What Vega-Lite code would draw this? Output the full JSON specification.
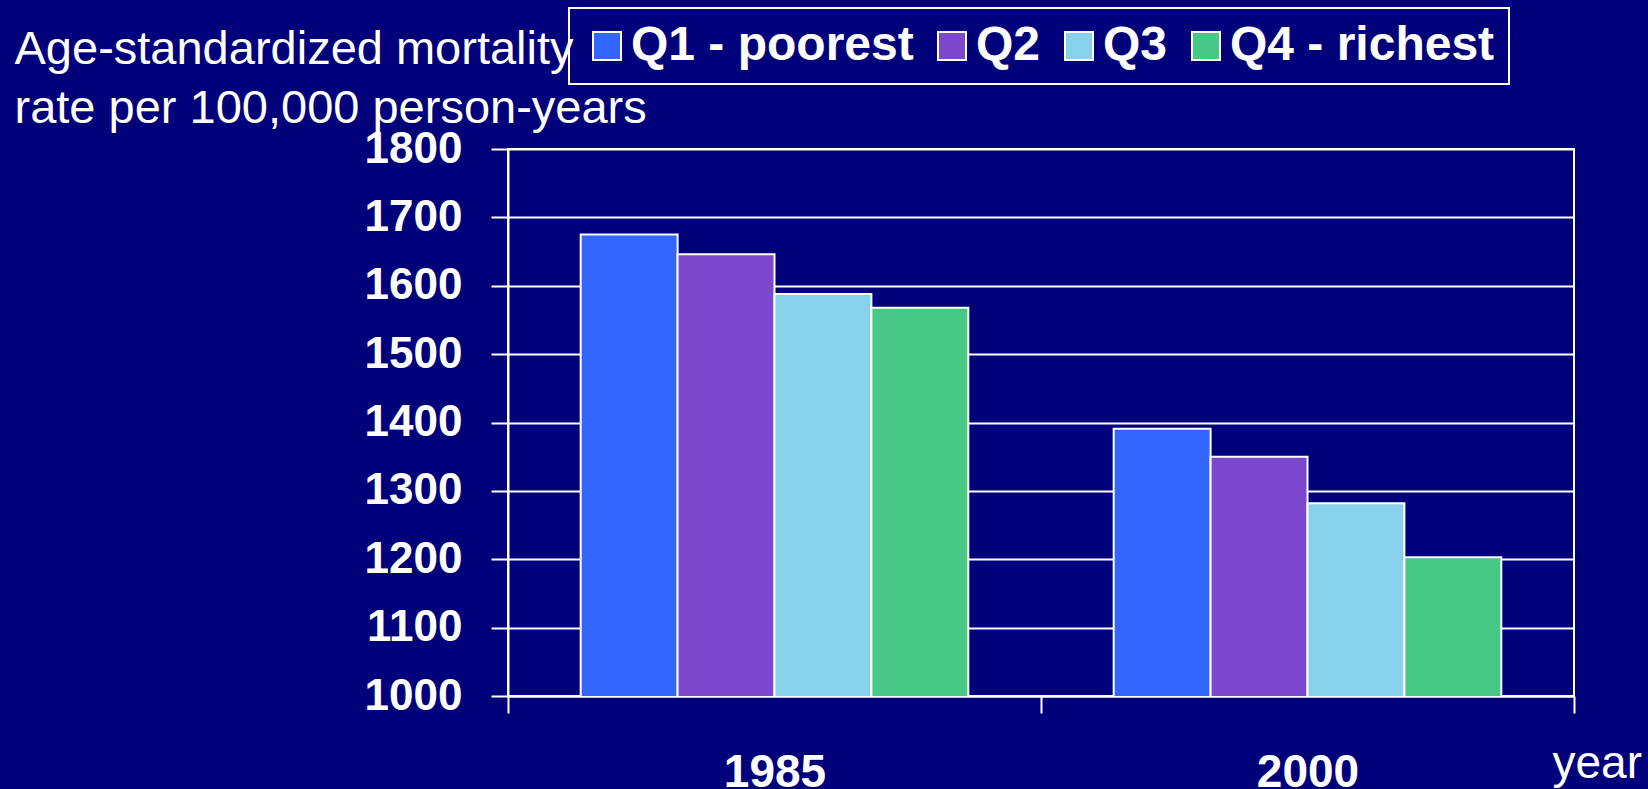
{
  "$schema": "https://vega.github.io/schema/vega-lite/v6.json",
  "width": 1066,
  "height": 547,
  "autosize": "none",
  "padding": {"left": 508, "top": 149, "right": 74, "bottom": 93},
  "background": "#00007a",
  "data": {
    "values": [
      {"year": "1985", "q": "Q1 - poorest", "rate": 1675},
      {"year": "1985", "q": "Q2", "rate": 1646},
      {"year": "1985", "q": "Q3", "rate": 1588},
      {"year": "1985", "q": "Q4 - richest", "rate": 1568},
      {"year": "2000", "q": "Q1 - poorest", "rate": 1391},
      {"year": "2000", "q": "Q2", "rate": 1350},
      {"year": "2000", "q": "Q3", "rate": 1282},
      {"year": "2000", "q": "Q4 - richest", "rate": 1203}
    ]
  },
  "mark": {"type": "bar", "stroke": "white", "strokeWidth": 2, "clip": true},
  "encoding": {
    "x": {
      "field": "year",
      "type": "nominal",
      "sort": ["1985", "2000"],
      "scale": {"paddingInner": 0, "paddingOuter": 0},
      "axis": {
        "title": "year",
        "titleAngle": 0,
        "titleAlign": "left",
        "titleBaseline": "alphabetic",
        "titleX": 1044,
        "titleY": 81,
        "titleFontSize": 46,
        "titleFontWeight": "normal",
        "titleColor": "white",
        "labelAngle": 0,
        "labelFontSize": 46,
        "labelFontWeight": "bold",
        "labelColor": "white",
        "labelPadding": 37,
        "tickBand": "extent",
        "tickSize": 17,
        "tickColor": "white",
        "tickWidth": 2,
        "domainColor": "white",
        "domainWidth": 2,
        "grid": false
      }
    },
    "xOffset": {
      "field": "q",
      "type": "nominal",
      "sort": ["Q1 - poorest", "Q2", "Q3", "Q4 - richest"],
      "scale": {"paddingInner": 0, "paddingOuter": 0.75}
    },
    "y": {
      "field": "rate",
      "type": "quantitative",
      "scale": {"domain": [1000, 1800], "nice": false, "zero": false},
      "axis": {
        "values": [1000, 1100, 1200, 1300, 1400, 1500, 1600, 1700, 1800],
        "format": "d",
        "title": ["Age-standardized mortality", "rate per 100,000 person-years"],
        "titleAngle": 0,
        "titleAlign": "left",
        "titleBaseline": "alphabetic",
        "titleX": -494,
        "titleY": -86,
        "titleFontSize": 47,
        "titleFontWeight": "normal",
        "titleColor": "white",
        "titleLineHeight": 59,
        "labelFontSize": 44,
        "labelFontWeight": "bold",
        "labelColor": "white",
        "labelPadding": 29,
        "tickSize": 17,
        "tickColor": "white",
        "tickWidth": 2,
        "domainColor": "white",
        "domainWidth": 2,
        "grid": true,
        "gridColor": "white",
        "gridWidth": 2,
        "gridOpacity": 1
      }
    },
    "color": {
      "field": "q",
      "type": "nominal",
      "sort": ["Q1 - poorest", "Q2", "Q3", "Q4 - richest"],
      "scale": {
        "domain": ["Q1 - poorest", "Q2", "Q3", "Q4 - richest"],
        "range": ["#3366FF", "#7B48CC", "#87D1EB", "#48C887"]
      },
      "legend": {
        "title": null,
        "orient": "none",
        "legendX": 61,
        "legendY": -141,
        "direction": "horizontal",
        "columns": 4,
        "padding": 14,
        "strokeColor": "white",
        "symbolType": "square",
        "symbolSize": 784,
        "symbolStrokeColor": "white",
        "symbolStrokeWidth": 2,
        "symbolOpacity": 1,
        "labelFontSize": 48,
        "labelFontWeight": "bold",
        "labelColor": "white",
        "labelOffset": 0,
        "columnPadding": 14,
        "labelLimit": 0,
        "encode": {"legend": {"update": {"strokeWidth": {"value": 2}}}}
      }
    }
  },
  "config": {
    "font": "Liberation Sans",
    "view": {"stroke": "white", "strokeWidth": 2}
  }
}
